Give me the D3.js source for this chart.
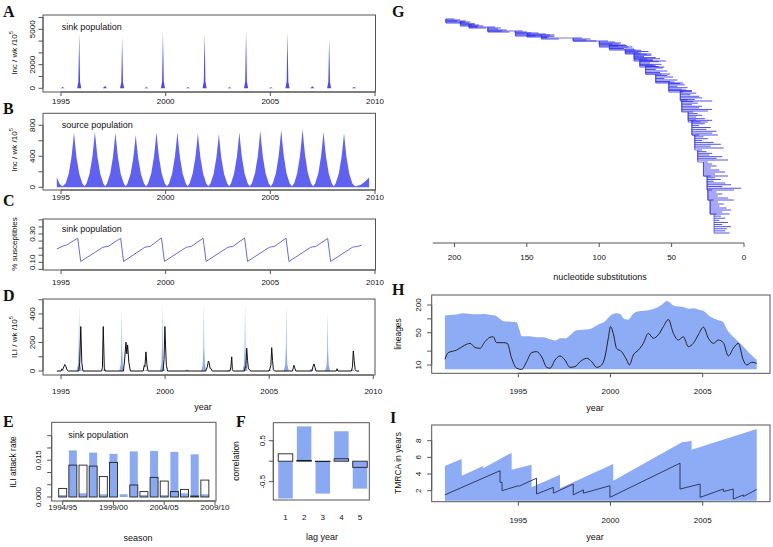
<!DOCTYPE html>
<html><head><meta charset="utf-8">
<script src="https://cdn.jsdelivr.net/npm/d3@7"></script>
<style>body{margin:0;background:#fff}svg{display:block}</style>
</head><body><svg id="c" width="773" height="547"></svg>
<script>
// ---------------- DATA ----------------
const yearTicks = [1995, 2000, 2005, 2010];
const yearTicksHI = [1995, 2000, 2005];

// A: sink population incidence (year, inc/wk/1e5)
const sinkIncidence = [[1994.8,0],[1994.98,0],[1995.03,50],[1995.08,100],[1995.13,50],[1995.18,0],
[1995.77,0],[1995.83,550],[1995.87,4670],[1995.91,550],[1995.97,0],
[1997.0,0],[1997.05,100],[1997.1,200],[1997.15,100],[1997.2,0],
[1997.82,0],[1997.88,500],[1997.92,4330],[1997.96,500],[1998.02,0],
[1998.98,0],[1999.03,50],[1999.08,100],[1999.13,50],[1999.18,0],
[1999.77,0],[1999.83,560],[1999.87,4815],[1999.91,560],[1999.97,0],
[2000.96,0],[2001.01,50],[2001.06,100],[2001.11,50],[2001.16,0],
[2001.76,0],[2001.82,550],[2001.86,4670],[2001.9,550],[2001.96,0],
[2002.95,0],[2003.0,50],[2003.05,100],[2003.1,50],[2003.15,0],
[2003.74,0],[2003.8,570],[2003.84,4900],[2003.88,570],[2003.94,0],
[2004.93,0],[2004.98,40],[2005.03,80],[2005.08,40],[2005.13,0],
[2005.72,0],[2005.78,550],[2005.82,4730],[2005.86,550],[2005.92,0],
[2006.91,0],[2006.96,90],[2007.01,170],[2007.06,90],[2007.11,0],
[2007.71,0],[2007.77,500],[2007.81,4250],[2007.85,500],[2007.91,0],
[2008.9,0],[2008.95,60],[2009.0,120],[2009.05,60],[2009.1,0],[2009.37,0]];
const sinkTicks = [0,1000,2000,3000,4000,5000,6000];
const sinkLabels = {0:"0",2000:"2000",5000:"5000"};

// B: source population incidence
const sourceIncidence = [[1994.8,130],[1994.93,45],[1995.07,12],
[1995.22,49],[1995.37,176],[1995.50,388],[1995.57,564],[1995.62,705],[1995.67,564],[1995.74,388],[1995.87,176],[1996.02,49],[1996.12,12],
[1996.22,50],[1996.37,180],[1996.50,395],[1996.57,574],[1996.62,718],[1996.67,574],[1996.74,395],[1996.87,180],[1997.02,50],[1997.11,12],
[1997.20,49],[1997.35,176],[1997.48,388],[1997.55,564],[1997.60,705],[1997.65,564],[1997.72,388],[1997.85,176],[1998.00,49],[1998.09,12],
[1998.17,47],[1998.32,169],[1998.45,371],[1998.52,540],[1998.57,675],[1998.62,540],[1998.69,371],[1998.82,169],[1998.97,47],[1999.07,12],
[1999.16,50],[1999.31,178],[1999.44,391],[1999.51,568],[1999.56,710],[1999.61,568],[1999.68,391],[1999.81,178],[1999.96,50],[2000.06,12],
[2000.16,50],[2000.31,178],[2000.44,391],[2000.51,568],[2000.56,710],[2000.61,568],[2000.68,391],[2000.81,178],[2000.96,50],[2001.05,12],
[2001.14,49],[2001.29,174],[2001.42,383],[2001.49,558],[2001.54,697],[2001.59,558],[2001.66,383],[2001.79,174],[2001.94,49],[2002.04,12],
[2002.14,48],[2002.29,172],[2002.42,378],[2002.49,550],[2002.54,688],[2002.59,550],[2002.66,378],[2002.79,172],[2002.94,48],[2003.03,12],
[2003.12,50],[2003.27,178],[2003.40,391],[2003.47,568],[2003.52,710],[2003.57,568],[2003.64,391],[2003.77,178],[2003.92,50],[2004.02,12],
[2004.12,51],[2004.27,183],[2004.40,402],[2004.47,585],[2004.52,731],[2004.57,585],[2004.64,402],[2004.77,183],[2004.92,51],[2005.02,12],
[2005.12,52],[2005.27,186],[2005.40,409],[2005.47,595],[2005.52,744],[2005.57,595],[2005.64,409],[2005.77,186],[2005.92,52],[2006.03,12],
[2006.14,53],[2006.29,188],[2006.42,414],[2006.49,602],[2006.54,753],[2006.59,602],[2006.66,414],[2006.79,188],[2006.94,53],[2007.04,12],
[2007.14,50],[2007.29,179],[2007.42,393],[2007.49,571],[2007.54,714],[2007.59,571],[2007.66,393],[2007.79,179],[2007.94,50],[2008.03,12],
[2008.12,49],[2008.27,174],[2008.40,383],[2008.47,558],[2008.52,697],[2008.57,558],[2008.64,383],[2008.77,174],[2008.92,49],[2009.05,12],
[2009.3,30],[2009.5,70],[2009.72,125]];
const sourceTicks = [0,200,400,600,800];
const sourceLabels = {0:"0",400:"400",800:"800"};

// C: sink susceptibles fraction
const sinkSusceptibles = [[1994.8,0.194],[1995.05,0.212],[1995.1,0.216],[1995.25,0.221],[1995.8,0.27],[1995.94,0.106],
[1997.0,0.206],[1997.1,0.209],[1997.25,0.212],[1997.85,0.27],[1997.99,0.106],
[1999.0,0.206],[1999.1,0.209],[1999.25,0.212],[1999.8,0.272],[1999.94,0.106],
[2000.98,0.206],[2001.08,0.209],[2001.22,0.212],[2001.79,0.27],[2001.93,0.106],
[2002.97,0.206],[2003.07,0.209],[2003.21,0.212],[2003.77,0.272],[2003.91,0.106],
[2004.95,0.206],[2005.05,0.209],[2005.19,0.212],[2005.75,0.27],[2005.89,0.106],
[2006.93,0.206],[2007.03,0.209],[2007.17,0.212],[2007.74,0.268],[2007.88,0.106],
[2008.92,0.206],[2009.02,0.209],[2009.16,0.212],[2009.37,0.222]];
const suscTicks = [0.05,0.10,0.15,0.20,0.25,0.30,0.35,0.40];
const suscLabels = {"0.1":"0.10","0.3":"0.30"};

// D: model ILI (blue) and observed ILI (black)
const modelILI = [[1994.8,0],[1994.98,0],[1995.08,10],[1995.18,0],
[1995.75,0],[1995.82,47],[1995.85,163],[1995.87,465],[1995.89,163],[1995.92,47],[1995.99,0],
[1997.0,0],[1997.1,20],[1997.2,0],
[1997.8,0],[1997.87,44],[1997.9,154],[1997.92,441],[1997.94,154],[1997.97,44],[1998.04,0],
[1998.98,0],[1999.08,10],[1999.18,0],
[1999.75,0],[1999.82,47],[1999.85,165],[1999.87,470],[1999.89,165],[1999.92,47],[1999.99,0],
[2000.96,0],[2001.06,12],[2001.16,0],
[2001.74,0],[2001.81,47],[2001.84,163],[2001.86,465],[2001.88,163],[2001.91,47],[2001.98,0],
[2002.95,0],[2003.05,10],[2003.15,0],
[2003.72,0],[2003.79,48],[2003.82,168],[2003.84,481],[2003.86,168],[2003.89,48],[2003.96,0],
[2004.93,0],[2005.03,8],[2005.13,0],
[2005.7,0],[2005.77,47],[2005.8,163],[2005.82,465],[2005.84,163],[2005.87,47],[2005.94,0],
[2006.91,0],[2007.01,17],[2007.11,0],
[2007.69,0],[2007.76,42],[2007.79,146],[2007.81,417],[2007.83,146],[2007.86,42],[2007.93,0],
[2008.9,0],[2009.0,12],[2009.1,0],[2009.32,0]];
const observedILI = [[1994.8,0],[1995.0,0],[1995.04,15],[1995.08,10],[1995.14,30],[1995.18,45],[1995.24,30],[1995.3,5],[1995.36,0],
[1995.85,0],[1995.9,60],[1995.95,312],[1996.0,60],[1996.05,0],
[1996.95,0],[1996.99,25],[1997.03,312],[1997.08,20],[1997.12,0],
[1998.0,0],[1998.05,70],[1998.12,202],[1998.16,120],[1998.2,183],[1998.26,60],[1998.33,0],
[1998.95,0],[1999.0,40],[1999.03,30],[1999.08,134],[1999.13,40],[1999.18,0],
[1999.9,0],[1999.95,80],[1999.99,312],[2000.02,183],[2000.06,40],[2000.12,0],
[2001.95,0],[2002.03,30],[2002.08,70],[2002.12,55],[2002.16,20],[2002.22,15],[2002.26,0],
[2003.12,0],[2003.16,30],[2003.2,100],[2003.23,10],[2003.27,0],
[2003.82,0],[2003.85,30],[2003.88,25],[2003.92,160],[2003.96,75],[2004.0,15],[2004.06,10],[2004.1,0],
[2005.0,0],[2005.04,20],[2005.08,40],[2005.12,164],[2005.16,75],[2005.2,10],[2005.25,0],
[2006.12,0],[2006.16,25],[2006.19,40],[2006.23,20],[2006.28,0],
[2007.05,0],[2007.1,30],[2007.15,50],[2007.2,25],[2007.25,0],
[2008.22,0],[2008.26,16],[2008.3,0],
[2008.95,0],[2009.0,30],[2009.04,141],[2009.08,75],[2009.13,10],[2009.18,0],[2009.32,0]];
const iliTicks = [0,100,200,300,400,500];
const iliLabels = {0:"0",200:"200",400:"400"};

// E: seasonal attack rates
const seasons = ["1994/95","1995/96","1996/97","1997/98","1998/99","1999/00","2000/01","2001/02","2002/03","2003/04","2004/05","2005/06","2006/07","2007/08","2008/09"];
const attackModel = [0.0008,0.0190,0.0015,0.0181,0.0011,0.0176,0.0011,0.0186,0.0008,0.0188,0.0008,0.0184,0.0015,0.0174,0.0011];
const attackObserved = [0.0035,0.0130,0.0130,0.0126,0.0084,0.0141,0.0,0.0049,0.0022,0.0080,0.0065,0.0022,0.0031,0.0004,0.0069];
const seasonTickIdx = [1,6,11,16];
const seasonTickLabels = ["1994/95","1999/00","2004/05","2009/10"];
const attackTicks = [0,0.005,0.010,0.015,0.020,0.025];
const attackLabels = {"0":"0.000","0.015":"0.015"};

// F: lag correlations
const lagYears = [1,2,3,4,5];
const corrModel = [-0.91,0.85,-0.79,0.73,-0.67];
const corrObserved = [0.18,0.02,-0.01,0.06,-0.15];
const corrTicks = [-0.5,0,0.5];
const corrLabels = {"-0.5":"-0.5","0.5":"0.5"};

// G: phylogeny clades: [node subs, first tip rank, last tip rank, tip subs...]
const treeClades = [
 [206,0,4,200,196,198,193,195],
 [196,2,7,192,189,190,186,188,184],
 [190,5,9,186,183,180,184,178],
 [177,8,13,172,168,170,164,167,162],
 [158,12,17,153,150,147,151,148,144],
 [150,14,18,142,137,131,140,135],
 [140,16,20,134,131,136,128],
 [118,19,22,112,106,109,102],
 [100,22,28,94,89,85,91,82,87,80],
 [93,25,31,86,81,77,83,75],
 [82,30,35,76,71,66,73,64],
 [76,34,42,71,67,64,69,61,58,63,54],
 [72,40,48,67,63,59,65,57,61,55],
 [68,46,55,63,59,56,61,53,58,51],
 [61,55,64,57,53,49,55,46,51,42],
 [52,63,73,48,44,41,46,39,43,36,42],
 [44,71,82,40,36,33,37,31,29,34,22],
 [43,81,92,39,35,32,36,29,31,22,25],
 [38.6,93,103,35,32,29,33,27,22,25],
 [36,101,116,33,30,27,31,23,26,19,22,18],
 [34,116,129,31,28,25,29,21,16,23,14],
 [32,131,141,29,26,22,24,15,19,11],
 [28,143,157,25,22,19,23,17,13,20,11],
 [25.5,157,171,23,20,16,21,13,9,15,2,7],
 [25,171,181,22,19,15,18,11,7],
 [23.4,181,195,21,18,14,17,12,9,15,10],
 [20.7,195,214,19,16,13,17,11,15,9,12,13,10]];
const substTicks = [200,150,100,50,0];
const treeRootSubs = 215;

// H: lineages through time (upper envelope and median)
const lineagesUpper = [[1991.02,118],[1991.3,121],[1991.65,125],[1992.0,133],[1992.38,128],[1992.8,126],[1993.1,128],[1993.5,122],[1993.75,118],[1994.0,100],[1994.28,88],[1994.6,87],[1994.91,85],[1995.05,60],[1995.18,42],[1995.6,42],[1996.0,40],[1996.36,40],[1996.72,36],[1997.0,34],[1997.3,38],[1997.6,38],[1997.8,44],[1998.16,57],[1998.5,58],[1998.89,60],[1999.2,70],[1999.43,78],[1999.7,88],[1999.97,115],[2000.3,132],[2000.52,128],[2000.75,100],[2000.97,97],[2001.2,125],[2001.42,143],[2001.8,150],[2002.14,156],[2002.5,175],[2002.8,205],[2003.05,245],[2003.2,230],[2003.41,195],[2003.7,185],[2003.95,180],[2004.25,165],[2004.49,170],[2004.8,158],[2005.04,150],[2005.4,112],[2005.8,95],[2006.12,85],[2006.3,60],[2006.48,48],[2006.84,35],[2007.1,28],[2007.39,21],[2007.6,17],[2007.75,15],[2007.93,13]];
const lineagesLine = [[1991.02,13.3],[1991.2,18.5],[1991.65,21],[1992.1,27],[1992.38,29.5],[1992.65,24],[1992.92,23],[1993.19,32],[1993.46,39.8],[1993.64,41],[1993.82,30.5],[1994.19,30.5],[1994.4,29.5],[1994.64,14],[1994.91,8.5],[1995.18,8],[1995.45,11.8],[1995.72,18.5],[1995.99,19.5],[1996.27,15],[1996.54,8.9],[1996.72,8.5],[1996.99,12.8],[1997.26,15.7],[1997.53,12.8],[1997.8,8.9],[1998.07,9.2],[1998.35,11.8],[1998.71,14],[1998.98,11.8],[1999.25,8.9],[1999.52,10],[1999.7,15],[1999.88,38],[2000.0,68],[2000.15,48.5],[2000.33,23],[2000.6,19.5],[2000.88,12.8],[2001.02,10],[2001.24,16.5],[2001.51,21],[2001.78,29.5],[2002.05,48.5],[2002.32,38],[2002.59,45],[2002.87,68],[2003.14,97],[2003.41,48.5],[2003.68,34.8],[2003.95,41],[2004.22,25],[2004.49,29.5],[2004.76,45],[2005.04,66],[2005.31,38],[2005.58,29.5],[2005.85,34.8],[2006.12,30.5],[2006.39,15.7],[2006.66,23],[2006.93,29.5],[2007.2,12.8],[2007.39,10],[2007.66,11.5],[2007.93,10.9]];
const lineageTicks = [10,20,50,100,200];
const lineageLabels = {10:"10",50:"50",200:"200"};

// I: TMRCA (upper envelope and median)
const tmrcaUpper = [[1991.02,4.96],[1991.93,5.8],[1991.93,3.8],[1993.1,4.96],[1993.1,4.7],[1994.64,6.56],[1994.64,4.5],[1995.72,5.1],[1995.72,2.4],[1997.26,3.9],[1997.26,2.3],[2000.15,5.2],[2000.15,3.2],[2003.95,7.9],[2003.97,7.8],[2004.4,8.0],[2004.4,6.9],[2007.93,9.4]];
const tmrcaLine = [[1991.02,1.5],[1994.01,4.4],[1994.01,3.0],[1994.12,3.0],[1994.12,2.0],[1995.0,2.6],[1995.05,2.55],[1995.99,3.5],[1995.99,1.6],[1996.9,2.4],[1996.9,1.7],[1997.98,2.8],[1997.98,1.5],[1998.53,2.1],[1998.53,1.7],[1999.97,2.6],[1999.97,1.2],[2003.77,5.3],[2003.77,2.2],[2004.86,2.8],[2004.86,1.2],[2006.12,2.2],[2006.12,1.9],[2006.66,2.2],[2006.66,1.0],[2007.21,1.5],[2007.21,1.3],[2007.93,2.15]];
const tmrcaTicks = [2,4,6,8];

// ---------------- DRAWING ----------------
const svg = d3.select("#c");
const SANS = "'Liberation Sans', Arial, Helvetica, sans-serif";
const SERIF = "'Liberation Serif', 'Times New Roman', serif";
const AX = "#555";

function text(x, y, s, size, opt = {}) {
  const t = svg.append("text").attr("x", x).attr("y", y).text(s)
    .attr("font-family", opt.serif ? SERIF : SANS).attr("font-size", size)
    .attr("fill", opt.fill || "#111").attr("text-anchor", opt.anchor || "start");
  if (opt.bold) t.attr("font-weight", "bold");
  if (opt.central) t.attr("dominant-baseline", "central");
  return t;
}
function rtext(x, y, s, size) {
  return svg.append("text").attr("transform", `translate(${x},${y}) rotate(-90)`)
    .attr("font-family", SANS).attr("font-size", size).attr("fill", "#111")
    .attr("text-anchor", "middle").attr("dominant-baseline", "central").text(s);
}
function rtextSup(x, y, s, sup, size) {
  const t = rtext(x, y, "", size);
  t.append("tspan").text(s);
  t.append("tspan").attr("font-size", size * 0.7).attr("dy", -size * 0.4).text(sup);
  return t;
}
function box(x0, y0, x1, y1) {
  svg.append("rect").attr("x", x0).attr("y", y0).attr("width", x1 - x0).attr("height", y1 - y0)
    .attr("fill", "none").attr("stroke", AX).attr("stroke-width", 1);
}
function axisB(sc, ticks, labels, y, labY, len = 4, lineFrom, lineTo) {
  const g = svg.append("g");
  const a = lineFrom != null ? lineFrom : sc(ticks[0]);
  const b = lineTo != null ? lineTo : sc(ticks[ticks.length - 1]);
  g.append("line").attr("x1", a).attr("x2", b).attr("y1", y).attr("y2", y).attr("stroke", AX);
  ticks.forEach((t, i) => {
    g.append("line").attr("x1", sc(t)).attr("x2", sc(t)).attr("y1", y).attr("y2", y + len).attr("stroke", AX);
    if (labels[i] != null) text(sc(t), labY, labels[i], 8, {anchor: "middle", central: true});
  });
}
function axisL(sc, ticks, labelMap, x, labX, len = 4.5) {
  const g = svg.append("g");
  g.append("line").attr("y1", sc(ticks[0])).attr("y2", sc(ticks[ticks.length - 1]))
    .attr("x1", x).attr("x2", x).attr("stroke", AX);
  ticks.forEach(t => {
    g.append("line").attr("y1", sc(t)).attr("y2", sc(t)).attr("x1", x).attr("x2", x - len).attr("stroke", AX);
    const k = String(t);
    if (labelMap[k] != null) rtext(labX, sc(t), labelMap[k], 8);
  });
}
const yl = yearTicks.map(String);

// ---- Panel A ----
{
  const x = d3.scaleLinear().domain([1995, 2010]).range([61, 375]);
  const y = d3.scaleLinear().domain([0, 5000]).range([88.3, 29.3]);
  svg.append("path").datum(sinkIncidence)
    .attr("d", d3.area().x(d => x(d[0])).y0(y(0)).y1(d => y(d[1])))
    .attr("fill", "#4b4be8");
  box(43, 15, 375.5, 92);
  axisB(x, yearTicks, yl, 92, 101);
  axisL(y, sinkTicks, sinkLabels, 43, 32);
  rtextSup(14, 53, "Inc / wk /10", "5", 8);
  text(61.7, 29.5, "sink population", 9);
  text(3, 16.5, "A", 16, {serif: true, bold: true});
}
// ---- Panel B ----
{
  const x = d3.scaleLinear().domain([1995, 2010]).range([61, 375]);
  const y = d3.scaleLinear().domain([0, 800]).range([187.3, 125.3]);
  svg.append("path").datum(sourceIncidence)
    .attr("d", d3.area().x(d => x(d[0])).y0(y(0)).y1(d => y(d[1])))
    .attr("fill", "#6161ef");
  box(43, 113.3, 375.5, 190);
  axisB(x, yearTicks, yl, 190, 197);
  axisL(y, sourceTicks, sourceLabels, 43, 32);
  rtextSup(14, 150, "Inc / wk /10", "5", 8);
  text(61.7, 128, "source population", 9);
  text(3, 114, "B", 16, {serif: true, bold: true});
}
// ---- Panel C ----
{
  const x = d3.scaleLinear().domain([1995, 2010]).range([61, 375]);
  const y = d3.scaleLinear().domain([0.10, 0.30]).range([262.3, 234]);
  svg.append("path").datum(sinkSusceptibles)
    .attr("d", d3.line().x(d => x(d[0])).y(d => y(d[1])))
    .attr("fill", "none").attr("stroke", "#6a6add").attr("stroke-width", 1);
  box(43, 219, 375.5, 270);
  axisB(x, yearTicks, yl, 270, 282);
  const lm = {}; suscTicks.forEach(t => { const k = String(t); if (suscLabels[k]) lm[k] = suscLabels[k]; });
  axisL(y, suscTicks, lm, 43, 32);
  rtext(14, 244, "% susceptibles", 8);
  text(61.7, 231.5, "sink population", 9);
  text(3, 206, "C", 16, {serif: true, bold: true});
}
// ---- Panel D ----
{
  const x = d3.scaleLinear().domain([1995, 2010]).range([61, 373.3]);
  const y = d3.scaleLinear().domain([0, 400]).range([371, 314]);
  svg.append("path").datum(observedILI)
    .attr("d", d3.area().x(d => x(d[0])).y0(y(0)).y1(d => y(d[1])))
    .attr("fill", "#fff");
  svg.append("path").datum(modelILI)
    .attr("d", d3.area().x(d => x(d[0])).y0(y(0)).y1(d => y(d[1])))
    .attr("fill", "#8aa9ee");
  svg.append("path").datum(observedILI)
    .attr("d", d3.line().x(d => x(d[0])).y(d => y(d[1])))
    .attr("fill", "none").attr("stroke", "#111").attr("stroke-width", 1);
  box(43, 299, 375, 375);
  axisB(x, yearTicks, yl, 375, 391);
  axisL(y, iliTicks, iliLabels, 43, 32);
  rtextSup(14, 337, "ILI / wk /10", "5", 8);
  text(203, 407, "year", 9, {anchor: "middle", central: true});
  text(3, 301, "D", 16, {serif: true, bold: true});
}
// ---- Panel E ----
{
  const x = d3.scaleLinear().domain([1, 16]).range([62.7, 215]);
  const y = d3.scaleLinear().domain([0, 0.025]).range([497, 435.7]);
  const bw = 8;
  svg.append("g").selectAll("rect").data(attackModel).join("rect")
    .attr("x", (d, i) => x(i + 1) - bw / 2).attr("width", bw)
    .attr("y", d => y(d)).attr("height", d => y(0) - y(d)).attr("fill", "#8aa9f0");
  svg.append("g").selectAll("rect").data(attackObserved).join("rect")
    .attr("x", (d, i) => x(i + 1) - bw / 2).attr("width", bw)
    .attr("y", d => y(d)).attr("height", d => y(0) - y(d))
    .attr("fill", "none").attr("stroke", d => d > 0 ? "#222" : "none").attr("stroke-width", 0.9);
  box(51.7, 422.3, 216, 501);
  axisB(x, seasonTickIdx, seasonTickLabels, 501, 507);
  const lm = {}; attackTicks.forEach(t => { const k = String(t); if (attackLabels[k]) lm[k] = attackLabels[k]; });
  axisL(y, attackTicks, lm, 51.7, 38.3);
  rtext(13.3, 462, "ILI attack rate", 8.5);
  text(138, 538, "season", 9, {anchor: "middle", central: true});
  text(68.3, 438, "sink population", 9);
  text(3, 427, "E", 16, {serif: true, bold: true});
}
// ---- Panel F ----
{
  const x = d3.scaleLinear().domain([1, 5]).range([285.5, 360]);
  const y = d3.scaleLinear().domain([0, 0.5]).range([461.2, 440.7]);
  const bw = 14.5;
  svg.append("g").selectAll("rect").data(corrModel).join("rect")
    .attr("x", (d, i) => x(lagYears[i]) - bw / 2).attr("width", bw)
    .attr("y", d => y(Math.max(0, d))).attr("height", d => Math.abs(y(d) - y(0))).attr("fill", "#8aa9f0");
  svg.append("g").selectAll("rect").data(corrObserved).join("rect")
    .attr("x", (d, i) => x(lagYears[i]) - bw / 2).attr("width", bw)
    .attr("y", d => y(Math.max(0, d))).attr("height", d => Math.abs(y(d) - y(0)))
    .attr("fill", "none").attr("stroke", "#222").attr("stroke-width", 0.9);
  box(273.3, 422.7, 369.3, 500);
  lagYears.forEach(l => text(x(l), 517, String(l), 8, {anchor: "middle", central: true}));
  axisL(y, corrTicks, corrLabels, 273.3, 262);
  rtext(236, 461, "correlation", 8.5);
  text(322, 537, "lag year", 9, {anchor: "middle", central: true});
  text(236, 427, "F", 16, {serif: true, bold: true});
}
// ---- Panel G ----
{
  const x = d3.scaleLinear().domain([0, 200]).range([744, 454.5]);
  const y = d3.scaleLinear().domain([0, 214]).range([19, 233]);
  const g = svg.append("g");
  g.append("path").datum(treeClades)
    .attr("d", d3.line().curve(d3.curveStepBefore).x(d => x(d[0])).y(d => y(d[1])))
    .attr("fill", "none").attr("stroke", "#5050d0").attr("stroke-width", 0.8);
  treeClades.forEach(c => {
    const [node, r0, r1, ...tips] = c;
    g.append("line").attr("x1", x(node)).attr("x2", x(node)).attr("y1", y(r0)).attr("y2", y(r1))
      .attr("stroke", "#5050d0").attr("stroke-width", 0.8);
    tips.forEach((t, k) => {
      const r = tips.length > 1 ? r0 + k * (r1 - r0) / (tips.length - 1) : r0;
      g.append("line").attr("x1", x(node)).attr("x2", x(t)).attr("y1", y(r)).attr("y2", y(r))
        .attr("stroke", "#2424e8").attr("stroke-width", 0.8);
    });
  });
  axisB(x, substTicks, substTicks.map(String), 243, 257.3, 4, x(treeRootSubs), x(0));
  text(600, 277, "nucleotide substitutions", 9, {anchor: "middle", central: true});
  text(392, 16.5, "G", 16, {serif: true, bold: true});
}
// ---- Panel H ----
{
  const x = d3.scaleLinear().domain([1995, 2005]).range([518.3, 702.7]);
  const y = d3.scaleLog().domain([10, 200]).range([365, 305]);
  svg.append("path").datum(lineagesUpper)
    .attr("d", d3.area().curve(d3.curveMonotoneX).x(d => x(d[0])).y0(y(8.1)).y1(d => y(d[1])))
    .attr("fill", "#8eabf5");
  svg.append("path").datum(lineagesLine)
    .attr("d", d3.line().curve(d3.curveMonotoneX).x(d => x(d[0])).y(d => y(d[1])))
    .attr("fill", "none").attr("stroke", "#222").attr("stroke-width", 1);
  box(431.7, 295, 770, 373.3);
  axisB(x, yearTicksHI, yearTicksHI.map(String), 373.3, 391);
  axisL(y, lineageTicks, lineageLabels, 431.7, 418);
  rtext(398, 334, "lineages", 8.5);
  text(595, 408, "year", 9, {anchor: "middle", central: true});
  text(392, 295, "H", 16, {serif: true, bold: true});
}
// ---- Panel I ----
{
  const x = d3.scaleLinear().domain([1995, 2005]).range([518.3, 702.7]);
  const y = d3.scaleLinear().domain([2, 8]).range([490.7, 440.7]);
  svg.append("path").datum(tmrcaUpper)
    .attr("d", d3.area().x(d => x(d[0])).y0(y(0.8)).y1(d => y(d[1])))
    .attr("fill", "#8eabf5");
  svg.append("path").datum(tmrcaLine)
    .attr("d", d3.line().x(d => x(d[0])).y(d => y(d[1])))
    .attr("fill", "none").attr("stroke", "#333a66").attr("stroke-width", 1);
  box(431.7, 425, 770, 501.7);
  axisB(x, yearTicksHI, yearTicksHI.map(String), 501.7, 520);
  const lm = {}; tmrcaTicks.forEach(t => lm[String(t)] = String(t));
  axisL(y, tmrcaTicks, lm, 431.7, 418);
  rtext(398, 463, "TMRCA in years", 8.5);
  text(595, 537, "year", 9, {anchor: "middle", central: true});
  text(390, 423, "I", 16, {serif: true, bold: true});
}
</script></body></html>
